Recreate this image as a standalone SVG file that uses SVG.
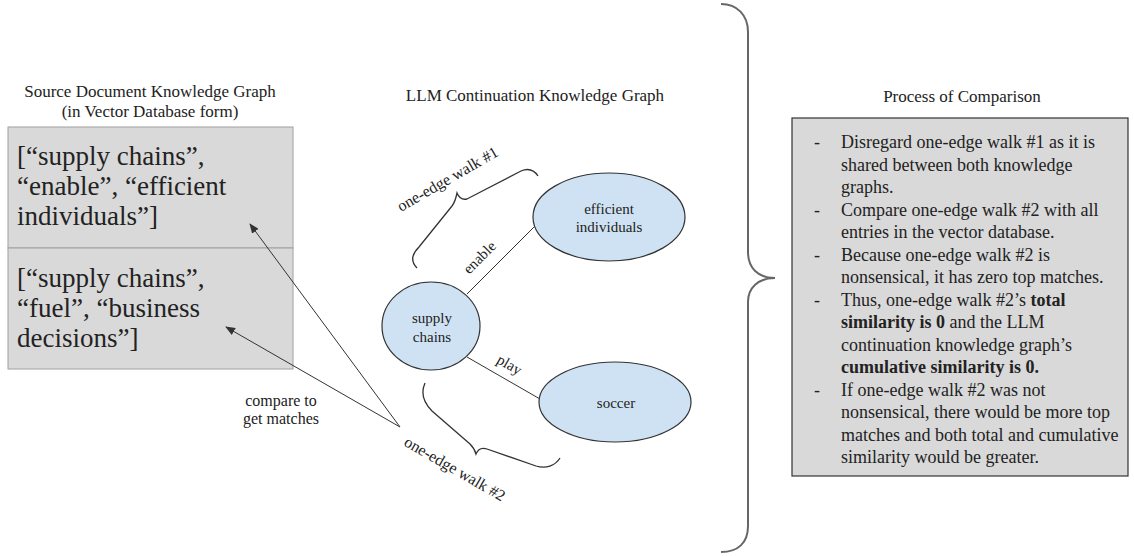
<svg xmlns="http://www.w3.org/2000/svg" width="1134" height="556" viewBox="0 0 1134 556" font-family="'Liberation Serif', 'DejaVu Serif', serif">
  <style>
    text { font-family: "Liberation Serif", "DejaVu Serif", serif; fill: #222; }
    .title { font-family: "Liberation Serif", serif; font-size: 17px; text-anchor: middle; }
    .big { font-family: "Liberation Serif", serif; font-size: 27px; }
    .proc { font-family: "Liberation Serif", serif; font-size: 18px; }
    .lbl { font-family: "Liberation Serif", serif; font-size: 15px; text-anchor: middle; }
    .cmp { font-family: "Liberation Serif", serif; font-size: 16px; text-anchor: middle; }
    .walk { font-family: "Liberation Serif", serif; font-size: 16px; }
    .node { fill: #cfe2f3; stroke: #333; stroke-width: 1.2; }
    .edge { stroke: #333; stroke-width: 1; fill: none; }
    .brace { stroke: #333; stroke-width: 1.3; fill: none; }
    .bigbrace { stroke: #666; stroke-width: 2; fill: none; }
    .cell { fill: #d9d9d9; stroke: #a0a0a0; stroke-width: 1; }
    .b { font-weight: bold; }
  </style>
  <defs>
    <marker id="arrow" markerUnits="userSpaceOnUse" markerWidth="10" markerHeight="8" refX="9" refY="4" orient="auto">
      <path d="M0,0 L10,4 L0,8 z" fill="#333"/>
    </marker>
  </defs>
  <rect width="1134" height="556" fill="#fff"/>

  <!-- Titles -->
  <text class="title" x="150" y="97">Source Document Knowledge Graph</text>
  <text class="title" x="150" y="117">(in Vector Database form)</text>
  <text class="title" x="535" y="101">LLM Continuation Knowledge Graph</text>
  <text class="title" x="962" y="102">Process of Comparison</text>

  <!-- Source document vector database -->
  <g id="source-box">
    <rect class="cell" x="8" y="127" width="285" height="121"/>
    <rect class="cell" x="8" y="248" width="285" height="121"/>
    <text class="big" x="17" y="165">[“supply chains”,</text>
    <text class="big" x="17" y="195">“enable”, “efficient</text>
    <text class="big" x="17" y="225">individuals”]</text>
    <text class="big" x="17" y="287">[“supply chains”,</text>
    <text class="big" x="17" y="317">“fuel”, “business</text>
    <text class="big" x="17" y="347">decisions”]</text>
  </g>

  <!-- Connectors -->
  <g id="connectors">
    <line class="edge" x1="467" y1="294" x2="534" y2="227"/>
    <line class="edge" x1="467" y1="357" x2="540" y2="399"/>
    <line class="edge" x1="400" y1="427" x2="250" y2="224" marker-end="url(#arrow)"/>
    <line class="edge" x1="400" y1="427" x2="226" y2="327" marker-end="url(#arrow)"/>
    <text class="lbl" x="483" y="261" transform="rotate(-45 483 261)">enable</text>
    <text class="lbl" x="507" y="369" transform="rotate(30 507 369)">play</text>
  </g>

  <!-- Walk braces -->
  <g id="walk1">
    <path class="brace" d="M417,268 C411,262 411,255 419,247 L452,206 C455,202 456,198 457,193 C459,198 462,200 467,199 L521,171 C528,168 534,170 538,176"/>
    <text class="walk" x="401" y="212" transform="rotate(-30 401 212)">one-edge walk #1</text>
  </g>
  <g id="walk2">
    <path class="brace" d="M425,383 C421,392 423,402 432,411 L470,444 C474,448 475,450 476,454 C478,449 481,447 487,449 L536,466 C546,469 555,466 560,458"/>
    <text class="walk" x="403" y="445" transform="rotate(30 403 445)">one-edge walk #2</text>
  </g>

  <g id="compare-label">
    <text class="cmp" x="281" y="406">compare to</text>
    <text class="cmp" x="281" y="424">get matches</text>
  </g>

  <!-- Nodes -->
  <g id="node-supply">
    <ellipse class="node" cx="431" cy="326" rx="49" ry="44"/>
    <text class="lbl" x="432" y="323">supply</text>
    <text class="lbl" x="432" y="342">chains</text>
  </g>
  <g id="node-efficient">
    <ellipse class="node" cx="609" cy="217" rx="76" ry="44"/>
    <text class="lbl" x="609" y="214">efficient</text>
    <text class="lbl" x="609" y="232">individuals</text>
  </g>
  <g id="node-soccer">
    <ellipse class="node" cx="615" cy="402" rx="76" ry="40"/>
    <text class="lbl" x="616" y="408">soccer</text>
  </g>

  <!-- Big brace -->
  <g id="big-brace">
    <path class="bigbrace" d="M721,4 C737,4 748,15 748,32 L748,252 C748,268 758,278 775,278 C758,278 748,288 748,302 L748,526 C748,543 738,552 721,552"/>
  </g>

  <!-- Process of comparison -->
  <g id="process-box">
    <rect x="792" y="118" width="336" height="358" fill="#d9d9d9" stroke="#333" stroke-width="1.2"/>
    <text class="proc" x="814" y="148">-</text>
    <text class="proc" x="841" y="148">Disregard one-edge walk #1 as it is</text>
    <text class="proc" x="841" y="170.5">shared between both knowledge</text>
    <text class="proc" x="841" y="193">graphs.</text>
    <text class="proc" x="814" y="215.5">-</text>
    <text class="proc" x="841" y="215.5">Compare one-edge walk #2 with all</text>
    <text class="proc" x="841" y="238">entries in the vector database.</text>
    <text class="proc" x="814" y="260.5">-</text>
    <text class="proc" x="841" y="260.5">Because one-edge walk #2 is</text>
    <text class="proc" x="841" y="283">nonsensical, it has zero top matches.</text>
    <text class="proc" x="814" y="305.5">-</text>
    <text class="proc" x="841" y="305.5">Thus, one-edge walk #2’s <tspan class="b">total</tspan></text>
    <text class="proc" x="841" y="328"><tspan class="b">similarity is 0</tspan> and the LLM</text>
    <text class="proc" x="841" y="350.5">continuation knowledge graph’s</text>
    <text class="proc b" x="841" y="373">cumulative similarity is 0.</text>
    <text class="proc" x="814" y="395.5">-</text>
    <text class="proc" x="841" y="395.5">If one-edge walk #2 was not</text>
    <text class="proc" x="841" y="418">nonsensical, there would be more top</text>
    <text class="proc" x="841" y="440.5">matches and both total and cumulative</text>
    <text class="proc" x="841" y="463">similarity would be greater.</text>
  </g>
</svg>
